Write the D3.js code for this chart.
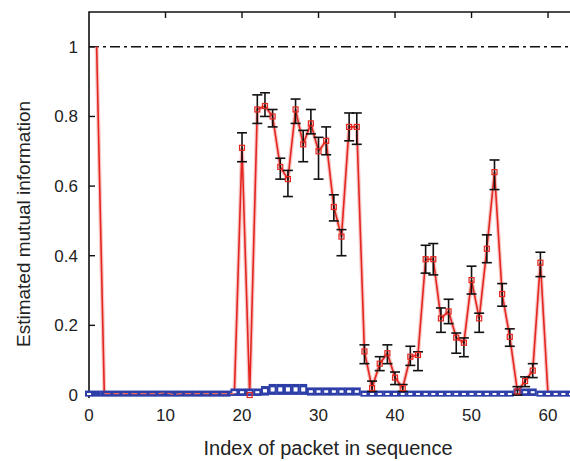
<!DOCTYPE html>
<html>
<head>
<meta charset="utf-8">
<script src="https://cdn.jsdelivr.net/npm/d3@7"></script>
<style>
  body { margin: 0; background: #fff; }
  svg text { font-family: "Liberation Sans", Arial, sans-serif; fill: #222; }
</style>
</head>
<body>
<svg id="chart" width="570" height="461"></svg>
<script>
// DATA
// ==================================================================
var xTicks = [0, 10, 20, 30, 40, 50, 60];
var yTicks = [0, 0.2, 0.4, 0.6, 0.8, 1];
var yTickLabels = ["0", "0.2", "0.4", "0.6", "0.8", "1"];

// estimated MI of the real sequence (red), packet index 1..63
var redIdx = [1,2,3,4,5,6,7,8,9,10,11,12,13,14,15,16,17,18,19,20,
              21,22,23,24,25,26,27,28,29,30,31,32,33,34,35,36,37,38,39,40,
              41,42,43,44,45,46,47,48,49,50,51,52,53,54,55,56,57,58,59,60,
              61,62,63];
var redVal = [1,0.004,0.004,0.004,0.004,0.004,0.004,0.004,0.004,0.006,0.002,0.004,0.004,0.004,0.004,0.004,0.004,0.004,0.004,0.71,
              0,0.82,0.83,0.80,0.655,0.62,0.82,0.72,0.78,0.70,0.73,0.54,0.455,0.77,0.77,0.125,0.02,0.09,0.12,0.05,
              0.02,0.11,0.115,0.39,0.39,0.22,0.24,0.165,0.15,0.33,0.22,0.42,0.64,0.29,0.167,0.01,0.04,0.07,0.38,0,
              0.005,0.005,0.005];
var redLo = [null,null,null,null,null,null,null,null,null,null,null,null,null,null,null,null,null,null,null,0.67,
             null,0.78,0.80,0.77,0.62,0.57,0.78,0.67,0.75,0.62,0.69,0.50,0.40,0.73,0.72,0.09,0.01,0.07,0.09,0.03,
             0.01,0.085,0.07,0.35,0.345,0.18,0.205,0.12,0.11,0.29,0.18,0.38,0.59,0.255,0.14,0.0,0.024,0.05,0.34,null,
             null,null,null];
var redHi = [null,null,null,null,null,null,null,null,null,null,null,null,null,null,null,null,null,null,null,0.753,
             null,0.862,0.868,0.82,0.68,0.645,0.85,0.76,0.82,0.74,0.77,0.575,0.475,0.81,0.81,0.144,0.04,0.11,0.144,0.066,
             0.03,0.14,0.124,0.43,0.435,0.25,0.275,0.178,0.164,0.37,0.235,0.46,0.675,0.32,0.19,0.024,0.052,0.09,0.41,null,
             null,null,null];

// shuffled baseline (blue), packet index 0..63
var blueIdx = [0,1,2,3,4,5,6,7,8,9,10,11,12,13,14,15,16,17,18,19,
               20,21,22,23,24,25,26,27,28,29,30,31,32,33,34,35,36,37,38,39,
               40,41,42,43,44,45,46,47,48,49,50,51,52,53,54,55,56,57,58,59,
               60,61,62,63];
var blueVal = [0.004,0.004,0.004,0.004,0.004,0.004,0.004,0.004,0.004,0.004,0.004,0.004,0.004,0.004,0.004,0.004,0.004,0.004,0.004,0.008,
               0.008,0.008,0.008,0.012,0.016,0.016,0.016,0.016,0.016,0.010,0.010,0.010,0.010,0.010,0.010,0.010,0.004,0.004,0.004,0.004,
               0.004,0.004,0.004,0.004,0.004,0.004,0.004,0.004,0.004,0.004,0.004,0.004,0.004,0.004,0.004,0.004,0.008,0.008,0.008,0.004,
               0.004,0.004,0.004,0.004];
var blueErr = [0.003,0.003,0.003,0.003,0.003,0.003,0.003,0.003,0.003,0.003,0.003,0.003,0.003,0.003,0.003,0.003,0.003,0.003,0.003,0.005,
               0.005,0.005,0.005,0.008,0.010,0.010,0.010,0.010,0.010,0.006,0.006,0.006,0.006,0.006,0.006,0.006,0.003,0.003,0.003,0.003,
               0.003,0.003,0.003,0.003,0.003,0.003,0.003,0.003,0.003,0.003,0.003,0.003,0.003,0.003,0.003,0.003,0.005,0.005,0.005,0.003,
               0.003,0.003,0.003,0.003];

var upperBound = 1;
// ==================================================================

var svg = d3.select("#chart");
var plotLeft = 89, plotTop = 12, plotBottom = 395, plotRight = 571;

var x = d3.scaleLinear().domain([0, 63]).range([plotLeft, plotRight]);
var y = d3.scaleLinear().domain([0, 1.1]).range([plotBottom, plotTop]);

// frame
svg.append("path")
   .attr("d", "M" + plotLeft + "," + (plotBottom + 3) + "V" + plotTop + "H" + (plotRight + 5))
   .attr("fill", "none").attr("stroke", "#111").attr("stroke-width", 1.6);

// left ticks (inward)
svg.append("g").selectAll("line").data(yTicks).enter().append("line")
   .attr("x1", plotLeft).attr("x2", plotLeft + 6)
   .attr("y1", function(d) { return y(d); }).attr("y2", function(d) { return y(d); })
   .attr("stroke", "#111").attr("stroke-width", 1.4);

// top ticks (inward)
svg.append("g").selectAll("line").data(xTicks.slice(1)).enter().append("line")
   .attr("x1", function(d) { return x(d); }).attr("x2", function(d) { return x(d); })
   .attr("y1", plotTop).attr("y2", plotTop + 6)
   .attr("stroke", "#111").attr("stroke-width", 1.4);

// tick labels
svg.append("g").selectAll("text").data(yTicks).enter().append("text")
   .attr("x", 78).attr("y", function(d) { return y(d) + 6; })
   .attr("text-anchor", "end").attr("font-size", 17)
   .text(function(d, i) { return yTickLabels[i]; });

svg.append("g").selectAll("text").data(xTicks).enter().append("text")
   .attr("x", function(d) { return x(d); }).attr("y", 421)
   .attr("text-anchor", "middle").attr("font-size", 17)
   .text(function(d) { return d; });

// axis titles
svg.append("text").attr("x", 328).attr("y", 455)
   .attr("text-anchor", "middle").attr("font-size", 20)
   .text("Index of packet in sequence");

svg.append("text").attr("transform", "translate(30,224) rotate(-90)")
   .attr("text-anchor", "middle").attr("font-size", 19)
   .text("Estimated mutual information");

// upper bound, dash-dot
svg.append("line")
   .attr("x1", plotLeft).attr("x2", plotRight + 5)
   .attr("y1", y(upperBound)).attr("y2", y(upperBound))
   .attr("stroke", "#111").attr("stroke-width", 1.6)
   .attr("stroke-dasharray", "10,4,3,4");

// red series
var redPts = redIdx.map(function(d, i) { return {i: d, v: redVal[i], lo: redLo[i], hi: redHi[i]}; });
var line = d3.line().x(function(d) { return x(d.i); }).y(function(d) { return y(d.v); });

svg.append("path").datum(redPts).attr("d", line)
   .attr("fill", "none").attr("stroke", "#f4a0a0").attr("stroke-width", 4).attr("stroke-opacity", 0.6);
svg.append("path").datum(redPts).attr("d", line)
   .attr("fill", "none").attr("stroke", "#e3261f").attr("stroke-width", 1.6);

// blue series (drawn over the red baseline)
var bluePts = blueIdx.map(function(d, i) { return {i: d, v: blueVal[i], e: blueErr[i]}; });
svg.append("g").selectAll("rect").data(bluePts).enter().append("rect")
   .attr("x", function(d) { return x(d.i) - 4; })
   .attr("width", 8)
   .attr("y", function(d) { return y(d.v + d.e) - 2; })
   .attr("height", function(d) { return y(d.v - d.e) - y(d.v + d.e) + 4; })
   .attr("fill", "#2e3ea8");
svg.append("g").selectAll("rect").data(bluePts.filter(function(d) { return d.i == 0 || d.i >= 19; })).enter().append("rect")
   .attr("x", function(d) { return x(d.i) - 2; })
   .attr("width", 4)
   .attr("y", function(d) { return y(d.v + d.e * 0.6); })
   .attr("height", function(d) { return Math.max(2, y(d.v - d.e * 0.6) - y(d.v + d.e * 0.6)); })
   .attr("fill", "#fff");

// red line near zero on top of the blue band
svg.append("path").datum(redPts.filter(function(d) { return d.i >= 2 && d.i <= 19; })).attr("d", line)
   .attr("fill", "none").attr("stroke", "#e86a60").attr("stroke-width", 1.2)
   .attr("stroke-dasharray", "6,3");

// error bars
var errPts = redPts.filter(function(d) { return d.lo != null; });
var eb = svg.append("g").attr("stroke", "#111").attr("stroke-width", 1.6);
eb.selectAll(".v").data(errPts).enter().append("line")
   .attr("x1", function(d) { return x(d.i); }).attr("x2", function(d) { return x(d.i); })
   .attr("y1", function(d) { return y(d.lo); }).attr("y2", function(d) { return y(d.hi); });
eb.selectAll(".t").data(errPts).enter().append("line")
   .attr("x1", function(d) { return x(d.i) - 5; }).attr("x2", function(d) { return x(d.i) + 5; })
   .attr("y1", function(d) { return y(d.hi); }).attr("y2", function(d) { return y(d.hi); });
eb.selectAll(".b").data(errPts).enter().append("line")
   .attr("x1", function(d) { return x(d.i) - 5; }).attr("x2", function(d) { return x(d.i) + 5; })
   .attr("y1", function(d) { return y(d.lo); }).attr("y2", function(d) { return y(d.lo); });

// red markers
svg.append("g").selectAll("rect").data(redPts.filter(function(d) { return d.i >= 20 && d.i <= 59; })).enter().append("rect")
   .attr("x", function(d) { return x(d.i) - 2.5; })
   .attr("y", function(d) { return y(d.v) - 2.5; })
   .attr("width", 5).attr("height", 5)
   .attr("fill", "none").attr("stroke", "#e3261f").attr("stroke-width", 1.2);
</script>
</body>
</html>
